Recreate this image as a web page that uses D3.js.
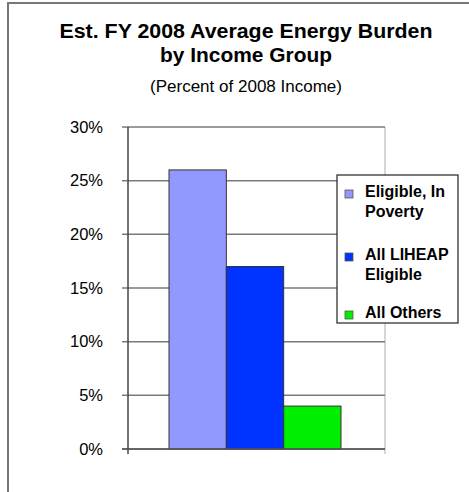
<!DOCTYPE html>
<html>
<head>
<meta charset="utf-8">
<script src="https://cdnjs.cloudflare.com/ajax/libs/d3/7.8.5/d3.min.js"></script>
<style>
body { margin: 0; background: #fff; }
text { font-family: Arial, "Liberation Sans", sans-serif; fill: #000; }
</style>
</head>
<body>
<script>
"use strict";

(function() {

let width = 469;
let height = 492;

// chart data
let groups = ['Eligible, In Poverty', 'All LIHEAP Eligible', 'All Others'];
let legendLines = [['Eligible, In', 'Poverty'], ['All LIHEAP', 'Eligible'], ['All Others']];
let burden = [26, 17, 4];
let colors = ['#9199ff', '#0033ff', '#00ee00'];
let ticks = [0, 5, 10, 15, 20, 25, 30];

let svg = d3.select('body')
    .append('svg')
    .attr('width', width)
    .attr('height', height);

// outer frame (only top and left edges visible)
svg.append('path')
    .attr('d', 'M8,' + height + 'V3H' + width)
    .attr('fill', 'none')
    .attr('stroke', '#777')
    .attr('stroke-width', 2);

// titles
svg.append('text')
    .attr('x', 246).attr('y', 38)
    .attr('text-anchor', 'middle')
    .attr('textLength', 373).attr('lengthAdjust', 'spacingAndGlyphs')
    .style('font-weight', 'bold').style('font-size', '19.5px')
    .text('Est. FY 2008 Average Energy Burden');
svg.append('text')
    .attr('x', 246).attr('y', 62)
    .attr('text-anchor', 'middle')
    .attr('textLength', 172).attr('lengthAdjust', 'spacingAndGlyphs')
    .style('font-weight', 'bold').style('font-size', '19.5px')
    .text('by Income Group');
svg.append('text')
    .attr('x', 246).attr('y', 92)
    .attr('text-anchor', 'middle')
    .attr('textLength', 192).attr('lengthAdjust', 'spacingAndGlyphs')
    .style('font-size', '16px')
    .text('(Percent of 2008 Income)');

let plot = { left: 128, right: 385, top: 127, bottom: 449 };

let y = d3.scaleLinear()
    .domain([0, 30])
    .range([plot.bottom, plot.top]);

let x = d3.scaleBand()
    .domain(groups)
    .range([169, 341])
    .padding(0);

// right border of plot area
svg.append('line')
    .attr('x1', plot.right).attr('x2', plot.right)
    .attr('y1', plot.top).attr('y2', plot.bottom + 5)
    .attr('stroke', '#c8c8c8').attr('stroke-width', 1.5);

// gridlines + ticks
svg.selectAll('.grid')
    .data(ticks)
    .enter()
    .append('line')
    .attr('class', 'grid')
    .attr('x1', plot.left - 6)
    .attr('x2', plot.right)
    .attr('y1', function(d) { return y(d); })
    .attr('y2', function(d) { return y(d); })
    .attr('stroke', '#7a7a7a')
    .attr('stroke-width', 1.5);

// y axis line
svg.append('line')
    .attr('x1', plot.left).attr('x2', plot.left)
    .attr('y1', plot.top).attr('y2', plot.bottom + 5)
    .attr('stroke', '#444').attr('stroke-width', 1.5);

svg.selectAll('.ylab')
    .data(ticks)
    .enter()
    .append('text')
    .attr('class', 'ylab')
    .attr('x', 103)
    .attr('y', function(d) { return y(d) + 5.5; })
    .attr('text-anchor', 'end')
    .style('font-size', '16.5px')
    .text(function(d) { return d + '%'; });

// bars
svg.selectAll('.bar')
    .data(burden)
    .enter()
    .append('rect')
    .attr('class', 'bar')
    .attr('x', function(d, i) { return x(groups[i]); })
    .attr('y', function(d) { return y(d); })
    .attr('width', x.bandwidth())
    .attr('height', function(d) { return y(0) - y(d); })
    .attr('fill', function(d, i) { return colors[i]; })
    .attr('stroke', '#333')
    .attr('stroke-width', 1);

// x axis baseline on top of bars
svg.append('line')
    .attr('x1', plot.left - 6).attr('x2', plot.right)
    .attr('y1', y(0)).attr('y2', y(0))
    .attr('stroke', '#555').attr('stroke-width', 1.5);

// legend
let legend = svg.append('g').attr('transform', 'translate(337,175)');
legend.append('rect')
    .attr('width', 121).attr('height', 148)
    .attr('fill', '#fff')
    .attr('stroke', '#222').attr('stroke-width', 1.2);

let legendY = [22, 85, 143];
let items = legend.selectAll('.item')
    .data(groups)
    .enter()
    .append('g')
    .attr('class', 'item')
    .attr('transform', function(d, i) { return 'translate(0,' + legendY[i] + ')'; });

items.append('rect')
    .attr('x', 8).attr('y', -7)
    .attr('width', 8).attr('height', 8)
    .attr('fill', function(d, i) { return colors[i]; })
    .attr('stroke', '#555').attr('stroke-width', 0.8);

items.each(function(d, i) {
    d3.select(this).selectAll('text')
        .data(legendLines[i])
        .enter()
        .append('text')
        .attr('x', 28)
        .attr('y', function(t, j) { return j * 19.5; })
        .style('font-weight', 'bold')
        .style('font-size', '16px')
        .text(function(t) { return t; });
});

})();
</script>
</body>
</html>
